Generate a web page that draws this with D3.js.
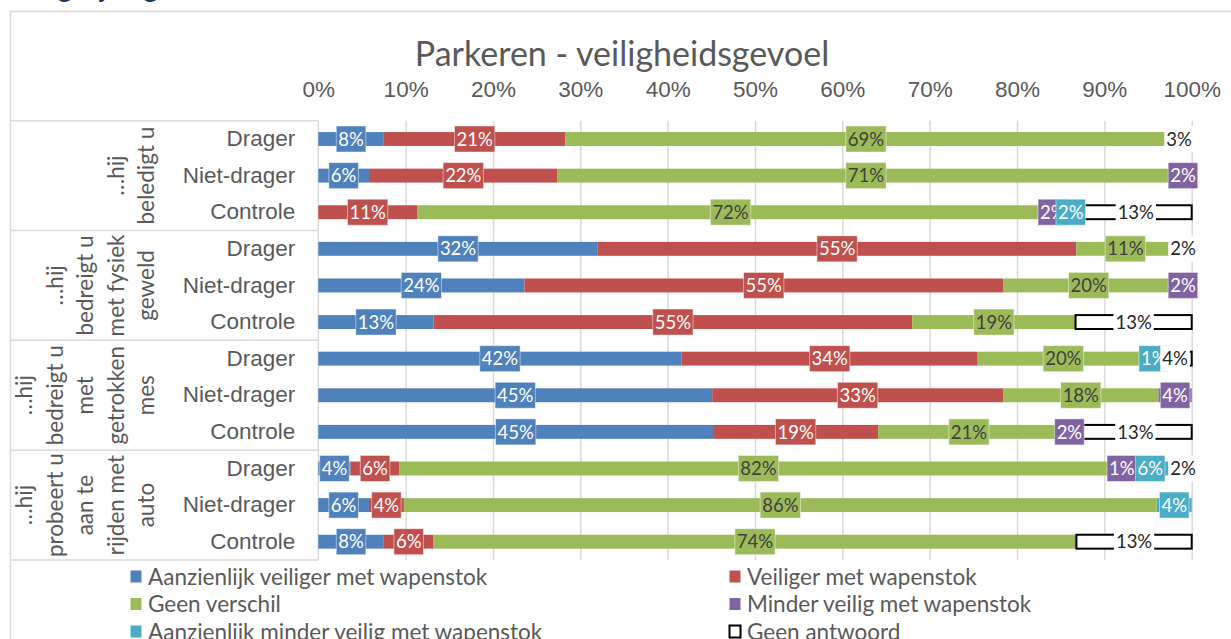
<!DOCTYPE html>
<html>
<head>
<meta charset="utf-8">
<script src="https://cdn.jsdelivr.net/npm/d3@7"></script>
<style>
body { margin: 0; background: #fff; overflow: hidden; }
svg { display: block; font-family: Lato, "Open Sans", sans-serif; }
</style>
</head>
<body>
<svg id="chart" width="1231" height="639"></svg>
<script>
// categories (top to bottom)
const rowLabels = ["Drager", "Niet-drager", "Controle", "Drager", "Niet-drager", "Controle",
                   "Drager", "Niet-drager", "Controle", "Drager", "Niet-drager", "Controle"];
const groupLabels = [
    ["…hij", "beledigt u"],
    ["…hij", "bedreigt u", "met fysiek", "geweld"],
    ["…hij", "bedreigt u", "met", "getrokken", "mes"],
    ["…hij", "probeert u", "aan te", "rijden met", "auto"]
];
const seriesNames = ["Aanzienlijk veiliger met wapenstok", "Veiliger met wapenstok", "Geen verschil",
                     "Minder veilig met wapenstok", "Aanzienlijk minder veilig met wapenstok", "Geen antwoord"];

// series values in %
const aanzienlijkVeiliger = [7.5, 5.8, 0, 32.0, 23.6, 13.2, 41.6, 45.1, 45.2, 3.7, 5.8, 7.5];
const veiliger            = [20.8, 21.6, 11.3, 54.8, 54.8, 54.8, 33.9, 33.3, 18.9, 5.6, 4.0, 5.7];
const geenVerschil        = [68.8, 70.6, 71.8, 11.2, 19.6, 18.7, 19.6, 17.8, 20.8, 82.2, 86.2, 73.6];
const minderVeilig        = [0, 2.0, 2.0, 0, 2.0, 0, 0, 3.8, 2.2, 1.0, 0, 0];
const aanzienlijkMinder   = [0, 0, 2.1, 0, 0, 0, 1.1, 0, 0, 5.5, 4.0, 0];
const geenAntwoord        = [2.9, 0, 12.8, 2.0, 0, 13.3, 3.8, 0, 12.9, 2.0, 0, 13.2];

const xTicks = [0, 10, 20, 30, 40, 50, 60, 70, 80, 90, 100];

const seriesValues = [aanzienlijkVeiliger, veiliger, geenVerschil, minderVeilig, aanzienlijkMinder, geenAntwoord];
const colors = ["#4F81BD", "#C0504D", "#9BBB59", "#8064A2", "#4BACC6", "#FFFFFF"];
const labelColors = ["#fff", "#fff", "#404040", "#fff", "#fff", "#262626"];

const svg = d3.select("#chart");
const grey = "#595959";
const lineGrey = "#d9d9d9";

// chart area border (runs off the picture at right and bottom)
svg.append("rect")
    .attr("x", 10.5).attr("y", 11.5)
    .attr("width", 1300).attr("height", 700)
    .attr("fill", "none").attr("stroke", lineGrey).attr("stroke-width", 1.5);

// heading of the page, cut off at the top
svg.append("text")
    .attr("x", 16).attr("y", -3)
    .attr("font-size", 28).attr("fill", "#1F3864")
    .text("Vergelijking");

svg.append("text")
    .attr("x", 622).attr("y", 66)
    .attr("text-anchor", "middle")
    .attr("font-size", 34).attr("fill", grey)
    .text("Parkeren - veiligheidsgevoel");

const plotTop = 120.7, plotBottom = 560;
const x = d3.scaleLinear().domain([0, 100]).range([318.3, 1191.7]);
const y = d3.scaleBand().domain(d3.range(rowLabels.length)).range([plotTop, plotBottom])
    .paddingInner(0.62).paddingOuter(0.31);
const yGroup = d3.scaleBand().domain(d3.range(groupLabels.length)).range([plotTop, plotBottom]);

// grid lines
svg.append("g")
    .attr("transform", `translate(0,${plotTop})`)
    .call(d3.axisBottom(x).tickValues(xTicks.slice(1)).tickSize(plotBottom - plotTop).tickFormat(""))
    .call(g => g.select(".domain").remove())
    .call(g => g.selectAll("line").attr("stroke", lineGrey).attr("stroke-width", 1.5));

// percentage axis on top
svg.append("g")
    .attr("transform", "translate(0,97)")
    .call(d3.axisTop(x).tickValues(xTicks).tickSize(0).tickPadding(0).tickFormat(d => d + "%"))
    .call(g => g.select(".domain").remove())
    .call(g => g.selectAll("text").attr("font-size", 22.5).attr("fill", grey).attr("font-family", null));

// category axis with group boxes
const catAxis = svg.append("g").attr("transform", `translate(${x(0)},0)`)
    .call(d3.axisLeft(y).tickSize(0).tickPadding(23).tickFormat(i => rowLabels[i]));
catAxis.select(".domain").attr("stroke", lineGrey).attr("stroke-width", 1.5)
    .attr("d", `M0,${plotTop}V${plotBottom}`);
catAxis.selectAll("text").attr("font-size", 22.5).attr("fill", grey).attr("font-family", null);

const bounds = yGroup.domain().map(g => yGroup(g)).concat([plotBottom]);
svg.append("g").selectAll("line").data(bounds).join("line")
    .attr("x1", 10).attr("x2", x(0))
    .attr("y1", d => d).attr("y2", d => d)
    .attr("stroke", lineGrey).attr("stroke-width", 1.5);

const groupText = svg.append("g").selectAll("text").data(groupLabels).join("text")
    .attr("font-size", 22.5).attr("fill", grey).attr("text-anchor", "middle")
    .attr("transform", (d, g) => `translate(${154 - (d.length - 1) * 30.5},${yGroup(g) + yGroup.bandwidth() / 2}) rotate(-90)`);
groupText.selectAll("tspan").data(d => d).join("tspan")
    .attr("x", 0).attr("dy", (d, i) => i === 0 ? 0 : 30.5)
    .text(d => d);

// stacked bars
const keys = d3.range(seriesValues.length);
const rows = rowLabels.map((c, i) => {
    const r = { i };
    keys.forEach(k => r[k] = seriesValues[k][i]);
    return r;
});
const stacked = d3.stack().keys(keys)(rows);

const bars = svg.append("g");
stacked.forEach((s, k) => {
    bars.append("g").selectAll("rect").data(s.filter(d => d[1] > d[0])).join("rect")
        .attr("x", d => x(d[0]))
        .attr("y", d => y(d.data.i))
        .attr("width", d => x(d[1]) - x(d[0]))
        .attr("height", y.bandwidth())
        .attr("fill", colors[k])
        .attr("stroke", k === 5 ? "#000" : "none")
        .attr("stroke-width", k === 5 ? 2 : 0);
});

// data labels, one series after the other
const labels = svg.append("g").attr("font-size", 18.5);
stacked.forEach((s, k) => {
    s.filter(d => d[1] > d[0]).forEach(d => {
        const cx = x((d[0] + d[1]) / 2);
        const cy = y(d.data.i) + y.bandwidth() / 2;
        const g = labels.append("g");
        const box = g.append("rect");
        const t = g.append("text")
            .attr("x", cx).attr("y", cy).attr("dy", "0.36em")
            .attr("text-anchor", "middle")
            .attr("fill", labelColors[k])
            .text(Math.round(d[1] - d[0]) + "%");
        const w = t.node().getComputedTextLength() + 4;
        box.attr("x", cx - w / 2).attr("y", cy - 13)
            .attr("width", w).attr("height", 26)
            .attr("fill", colors[k])
            .attr("stroke", k === 5 ? "none" : "rgba(255,255,255,0.45)")
            .attr("stroke-width", 1);
    });
});

// legend
const legend = svg.append("g").selectAll("g").data(seriesNames).join("g")
    .attr("transform", (d, k) => `translate(${k % 2 === 0 ? 130 : 729},${576.5 + Math.floor(k / 2) * 27.5})`);
legend.append("rect")
    .attr("x", 0.5).attr("y", -6)
    .attr("width", 11).attr("height", 12)
    .attr("fill", (d, k) => colors[k])
    .attr("stroke", (d, k) => k === 5 ? "#000" : "none")
    .attr("stroke-width", 2);
legend.append("text")
    .attr("x", 18).attr("dy", "0.36em")
    .attr("font-size", 22.5).attr("fill", grey)
    .text(d => d);
</script>
</body>
</html>
